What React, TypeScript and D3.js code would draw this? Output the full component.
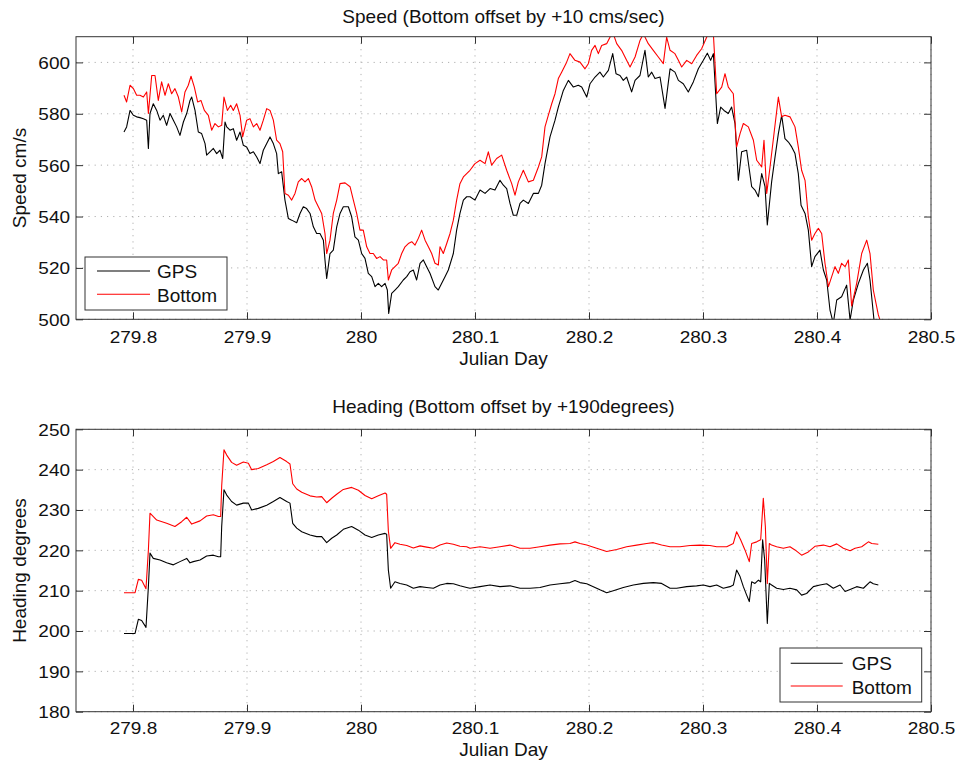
import React, { useEffect, useRef } from "react";
import * as d3 from "d3";

// ---------------- DATA ----------------
const xTicks = [279.8, 279.9, 280.0, 280.1, 280.2, 280.3, 280.4, 280.5];
const xTickLabels = ["279.8", "279.9", "280", "280.1", "280.2", "280.3", "280.4", "280.5"];
const speedTicks = [500, 520, 540, 560, 580, 600];
const headingTicks = [180, 190, 200, 210, 220, 230, 240, 250];
const seriesNames = ["GPS", "Bottom"];

const speedGPS: [number, number][] = [
  [279.7921, 572.9], [279.7944, 574.9], [279.7974, 581.3], [279.8003, 579.4], [279.8032, 578.8], [279.8061, 578.5],
  [279.8091, 578.1], [279.812, 577.5], [279.8135, 566.5], [279.8149, 580.1], [279.8178, 583.9], [279.8208, 581.3],
  [279.8237, 577.5], [279.8266, 579.4], [279.8295, 575.5], [279.8325, 580.1], [279.8354, 577.5], [279.8383, 574.9],
  [279.8412, 571.6], [279.8442, 576.8], [279.8471, 580.1], [279.85, 585.2], [279.8515, 586.5], [279.8544, 581.3],
  [279.8573, 572.9], [279.8602, 572.3], [279.8632, 568.4], [279.8646, 563.9], [279.8675, 565.2], [279.8705, 566.5],
  [279.8734, 564.5], [279.8763, 565.8], [279.8787, 562.6], [279.8807, 576.8], [279.8822, 574.9], [279.8851, 573.6],
  [279.888, 574.2], [279.8909, 569.7], [279.8939, 572.9], [279.8968, 567.7], [279.8997, 567.1], [279.9026, 564.5],
  [279.9056, 565.2], [279.9085, 563.2], [279.9114, 560.6], [279.9143, 565.8], [279.9173, 568.4], [279.9202, 571.0],
  [279.9231, 568.4], [279.926, 564.5], [279.9275, 556.7], [279.9304, 557.4], [279.9333, 546.4], [279.9363, 539.2],
  [279.9392, 538.6], [279.9436, 537.6], [279.9465, 541.2], [279.9494, 543.8], [279.9523, 543.1], [279.9553, 541.2],
  [279.9582, 536.0], [279.9611, 533.4], [279.964, 533.4], [279.967, 530.8], [279.9684, 523.1], [279.9699, 515.9],
  [279.9728, 525.6], [279.9757, 526.9], [279.9787, 536.0], [279.9816, 541.2], [279.9845, 543.8], [279.9889, 543.8],
  [279.9918, 539.9], [279.9947, 532.1], [279.9977, 530.8], [280.0006, 525.6], [280.0035, 523.7], [280.0064, 517.9],
  [280.0094, 516.6], [280.0123, 512.7], [280.0152, 514.0], [280.0181, 512.7], [280.0211, 514.0], [280.0231, 511.4],
  [280.0243, 502.3], [280.0269, 510.1], [280.0298, 511.4], [280.0327, 512.7], [280.0371, 515.3], [280.0401, 516.6],
  [280.043, 518.5], [280.0459, 519.2], [280.0488, 515.3], [280.0518, 521.8], [280.0547, 523.1], [280.0576, 520.5],
  [280.0605, 517.9], [280.0649, 512.7], [280.0678, 511.4], [280.0708, 514.0], [280.0737, 516.6], [280.0766, 519.2],
  [280.081, 525.6], [280.0839, 534.7], [280.0868, 541.2], [280.0898, 546.4], [280.0927, 547.7], [280.0956, 547.7],
  [280.1, 546.4], [280.1044, 550.3], [280.1088, 549.0], [280.1132, 550.9], [280.1175, 550.3], [280.1219, 554.1],
  [280.1249, 552.2], [280.1278, 550.9], [280.1307, 545.1], [280.1336, 540.5], [280.1366, 540.5], [280.1395, 545.1],
  [280.1424, 546.4], [280.1468, 545.1], [280.1512, 549.0], [280.1556, 549.0], [280.1585, 552.2], [280.1614, 560.6],
  [280.1658, 571.0], [280.1702, 577.5], [280.1731, 582.6], [280.1775, 589.1], [280.1819, 593.0], [280.1863, 590.4],
  [280.1906, 591.1], [280.1936, 590.4], [280.198, 586.5], [280.2009, 591.7], [280.2053, 594.3], [280.2096, 596.2],
  [280.2126, 594.3], [280.217, 596.9], [280.2208, 603.4], [280.2237, 595.6], [280.2272, 594.9], [280.2301, 593.0],
  [280.233, 594.3], [280.2374, 588.5], [280.2404, 593.0], [280.2447, 594.9], [280.2491, 604.7], [280.252, 594.3],
  [280.255, 596.2], [280.2579, 593.7], [280.2623, 594.3], [280.2667, 582.1], [280.2711, 597.5], [280.2754, 596.2],
  [280.2784, 593.0], [280.2827, 591.7], [280.2871, 588.5], [280.2915, 592.4], [280.2959, 597.5], [280.3003, 600.8],
  [280.3038, 603.6], [280.3067, 600.8], [280.3091, 603.4], [280.3126, 576.2], [280.3155, 582.6], [280.3184, 581.3],
  [280.3222, 580.1], [280.3251, 582.6], [280.3281, 576.2], [280.331, 554.1], [280.3339, 565.2], [280.3383, 565.8],
  [280.3427, 551.6], [280.3456, 550.3], [280.3486, 547.7], [280.3515, 556.7], [280.3544, 551.6], [280.3564, 536.7],
  [280.3602, 553.5], [280.3632, 563.2], [280.3661, 572.3], [280.369, 579.4], [280.3719, 570.3], [280.3749, 569.0],
  [280.3778, 567.1], [280.3807, 564.5], [280.3836, 556.7], [280.386, 544.4], [280.3895, 541.2], [280.3924, 534.7],
  [280.3953, 520.5], [280.3982, 524.4], [280.4026, 526.9], [280.4056, 519.2], [280.4085, 515.3], [280.4114, 503.6],
  [280.4143, 498.4], [280.4173, 507.5], [280.4216, 508.8], [280.426, 513.3], [280.429, 499.7], [280.4319, 507.5],
  [280.4363, 514.0], [280.4407, 519.2], [280.4442, 521.8], [280.4465, 515.3], [280.45, 499.7], [280.4538, 495.9],
];

const speedBottom: [number, number][] = [
  [279.7921, 587.2], [279.7944, 584.6], [279.7974, 591.1], [279.8003, 589.8], [279.8032, 587.2], [279.8061, 587.2],
  [279.8091, 586.5], [279.812, 588.5], [279.8135, 580.1], [279.8164, 594.9], [279.8193, 594.9], [279.8222, 585.2],
  [279.8251, 592.4], [279.8281, 587.2], [279.831, 591.7], [279.8339, 587.8], [279.8368, 589.8], [279.8398, 586.5],
  [279.8427, 580.7], [279.8456, 588.5], [279.8485, 591.1], [279.8509, 594.6], [279.8538, 590.4], [279.8567, 584.6],
  [279.8596, 585.2], [279.8626, 581.3], [279.8661, 579.4], [279.869, 573.6], [279.8719, 576.2], [279.8749, 574.9],
  [279.8778, 575.5], [279.8798, 586.5], [279.8828, 581.3], [279.8857, 583.3], [279.888, 581.3], [279.8909, 583.9],
  [279.8939, 579.4], [279.8962, 571.0], [279.8997, 577.5], [279.9026, 578.1], [279.9056, 574.9], [279.9085, 576.2],
  [279.9114, 573.6], [279.9143, 577.5], [279.9173, 582.0], [279.9202, 581.3], [279.9231, 577.5], [279.926, 569.7],
  [279.9289, 568.4], [279.9313, 565.2], [279.9333, 549.0], [279.9363, 548.3], [279.9392, 546.4], [279.9421, 549.0],
  [279.945, 553.5], [279.948, 554.8], [279.9509, 553.5], [279.9538, 554.8], [279.9567, 551.6], [279.9597, 546.4],
  [279.9626, 543.8], [279.9655, 541.2], [279.9684, 533.4], [279.9699, 525.6], [279.9728, 530.8], [279.9757, 541.2],
  [279.9787, 546.4], [279.9816, 552.8], [279.986, 553.1], [279.9904, 551.6], [279.9933, 546.4], [279.9962, 541.2],
  [279.9991, 534.7], [280.002, 534.7], [280.005, 528.2], [280.0079, 525.6], [280.0108, 525.6], [280.0137, 523.7],
  [280.0167, 524.4], [280.0196, 523.1], [280.0225, 523.1], [280.024, 515.3], [280.0269, 519.2], [280.0298, 520.5],
  [280.0327, 521.8], [280.0357, 525.6], [280.0386, 528.2], [280.0415, 529.5], [280.0445, 530.2], [280.0474, 528.9],
  [280.0503, 531.5], [280.0532, 534.7], [280.0562, 530.8], [280.0591, 528.2], [280.062, 525.6], [280.0649, 521.8],
  [280.0678, 521.1], [280.0693, 528.2], [280.0722, 525.6], [280.0752, 529.5], [280.0781, 533.4], [280.081, 538.6],
  [280.0839, 546.4], [280.0868, 552.8], [280.0898, 555.4], [280.0927, 556.7], [280.0956, 558.0], [280.1, 560.6],
  [280.1044, 561.9], [280.1088, 560.6], [280.1117, 565.2], [280.1146, 560.0], [280.119, 562.6], [280.1234, 563.9],
  [280.1278, 558.0], [280.1322, 552.8], [280.1351, 548.3], [280.138, 553.5], [280.1424, 558.0], [280.1468, 553.5],
  [280.1512, 554.1], [280.1556, 559.3], [280.1585, 563.2], [280.1614, 574.9], [280.1643, 579.4], [280.1673, 583.9],
  [280.1702, 587.8], [280.1731, 593.7], [280.176, 596.2], [280.1804, 600.1], [280.1833, 603.4], [280.1877, 600.8],
  [280.1921, 600.1], [280.1965, 597.5], [280.1994, 599.5], [280.2023, 604.7], [280.2053, 606.6], [280.2082, 603.4],
  [280.2111, 606.6], [280.2155, 607.3], [280.2184, 609.8], [280.2213, 611.1], [280.2243, 607.3], [280.2286, 604.7],
  [280.233, 600.8], [280.236, 598.2], [280.2404, 602.1], [280.2447, 608.5], [280.2477, 611.1], [280.252, 607.3],
  [280.2564, 604.7], [280.2608, 602.1], [280.2652, 599.5], [280.2681, 609.8], [280.2711, 604.7], [280.2754, 603.4],
  [280.2784, 600.8], [280.2813, 598.2], [280.2857, 600.8], [280.2901, 599.5], [280.2944, 602.7], [280.2988, 605.3],
  [280.3032, 609.8], [280.3061, 611.7], [280.3091, 611.1], [280.312, 587.8], [280.3164, 590.4], [280.3193, 595.6],
  [280.3222, 590.4], [280.3266, 587.8], [280.3295, 567.1], [280.3325, 572.3], [280.3354, 576.2], [280.3398, 574.9],
  [280.3442, 569.7], [280.3471, 561.9], [280.3515, 559.3], [280.3535, 569.7], [280.3559, 549.0], [280.3588, 559.3],
  [280.3623, 572.3], [280.3661, 586.5], [280.369, 578.8], [280.3719, 579.4], [280.3763, 578.8], [280.3807, 574.9],
  [280.3836, 567.1], [280.3865, 558.0], [280.3895, 554.1], [280.3924, 539.9], [280.3953, 530.8], [280.3982, 533.4],
  [280.4012, 535.4], [280.4041, 533.4], [280.407, 521.8], [280.41, 512.7], [280.4129, 516.6], [280.4158, 520.5],
  [280.4187, 517.9], [280.4216, 521.8], [280.4246, 520.5], [280.4275, 523.1], [280.4304, 505.2], [280.4348, 514.0],
  [280.4392, 525.6], [280.4436, 530.8], [280.4465, 525.6], [280.4494, 511.4], [280.4538, 501.7], [280.4553, 499.7],
];

const headingGPS: [number, number][] = [
  [279.7921, 199.4], [279.8018, 199.4], [279.8047, 202.9], [279.8076, 202.6], [279.8114, 200.9], [279.8135, 211.0],
  [279.8149, 219.3], [279.8178, 218.0], [279.8237, 217.6], [279.8295, 216.9], [279.8354, 216.4], [279.8412, 217.2],
  [279.8471, 218.0], [279.85, 216.9], [279.8529, 217.2], [279.8588, 217.6], [279.8646, 218.6], [279.8705, 218.8],
  [279.8749, 218.4], [279.8769, 218.4], [279.8778, 225.9], [279.8798, 235.0], [279.8822, 233.7], [279.8865, 232.1],
  [279.8909, 231.2], [279.8968, 231.7], [279.9012, 231.7], [279.9041, 230.0], [279.9099, 230.4], [279.9173, 231.2],
  [279.9231, 232.1], [279.9289, 233.1], [279.9348, 232.1], [279.9377, 231.7], [279.9401, 226.7], [279.9436, 225.5],
  [279.948, 224.6], [279.9553, 223.8], [279.9611, 223.4], [279.9655, 223.4], [279.9699, 221.9], [279.9743, 223.0],
  [279.9787, 223.8], [279.9845, 225.2], [279.9918, 225.9], [279.9977, 225.0], [280.0035, 223.8], [280.0094, 223.2],
  [280.0152, 223.8], [280.0211, 224.2], [280.0225, 224.0], [280.024, 215.1], [280.026, 210.6], [280.0298, 212.2],
  [280.0342, 211.8], [280.0401, 211.4], [280.0459, 210.6], [280.0518, 211.0], [280.0576, 210.8], [280.0635, 210.6],
  [280.0693, 211.4], [280.0752, 211.8], [280.081, 211.7], [280.0868, 211.2], [280.0927, 210.8], [280.0956, 210.6],
  [280.1044, 211.0], [280.1132, 211.4], [280.1219, 211.0], [280.1307, 211.2], [280.1395, 210.6], [280.1483, 210.6],
  [280.157, 210.8], [280.1658, 211.4], [280.1746, 211.7], [280.1833, 212.0], [280.1877, 212.5], [280.1921, 212.0],
  [280.198, 211.7], [280.2038, 211.0], [280.2096, 210.2], [280.2155, 209.5], [280.2213, 210.0], [280.2301, 210.8],
  [280.2389, 211.4], [280.2477, 211.8], [280.2564, 212.0], [280.2637, 211.8], [280.2711, 210.6], [280.2769, 210.6],
  [280.2857, 211.0], [280.2944, 211.2], [280.3003, 211.4], [280.3061, 211.0], [280.312, 211.4], [280.3178, 210.6],
  [280.3237, 211.0], [280.3266, 211.4], [280.3295, 215.1], [280.3325, 213.5], [280.3354, 211.0], [280.3383, 208.9],
  [280.3406, 207.3], [280.3427, 212.2], [280.3456, 211.8], [280.3486, 212.6], [280.3506, 212.2], [280.3523, 222.6],
  [280.3541, 217.6], [280.3564, 201.9], [280.3582, 211.8], [280.3602, 211.4], [280.3646, 210.6], [280.3705, 210.3],
  [280.3763, 210.6], [280.3822, 210.2], [280.3865, 208.9], [280.3909, 209.3], [280.3968, 211.0], [280.4026, 211.4],
  [280.4085, 211.7], [280.4143, 210.6], [280.4202, 211.4], [280.4246, 209.8], [280.429, 210.3], [280.4348, 211.0],
  [280.4407, 210.6], [280.4465, 212.2], [280.4494, 211.7], [280.4538, 211.4],
];

const headingBottom: [number, number][] = [
  [279.7921, 209.5], [279.8018, 209.5], [279.8047, 212.8], [279.8076, 212.6], [279.8114, 210.5], [279.8135, 220.1],
  [279.8149, 229.2], [279.8208, 227.5], [279.8295, 226.7], [279.8368, 225.9], [279.8427, 227.1], [279.8471, 228.2],
  [279.8515, 226.5], [279.8588, 227.3], [279.8646, 228.5], [279.8705, 228.8], [279.8749, 228.4], [279.8769, 228.4],
  [279.8778, 236.0], [279.8798, 244.9], [279.8822, 243.6], [279.8865, 241.8], [279.8909, 241.1], [279.8968, 241.9],
  [279.9012, 241.6], [279.9041, 240.0], [279.9099, 240.3], [279.9173, 241.2], [279.9231, 242.0], [279.9289, 243.0],
  [279.9348, 242.0], [279.9377, 241.4], [279.9401, 236.5], [279.9436, 235.2], [279.948, 234.4], [279.9553, 233.5],
  [279.9611, 233.2], [279.9655, 233.3], [279.9699, 231.8], [279.9743, 232.9], [279.9787, 233.9], [279.9845, 235.1],
  [279.9918, 235.6], [279.9977, 234.9], [280.0035, 233.6], [280.0094, 232.8], [280.0152, 233.5], [280.0211, 234.2],
  [280.0225, 233.9], [280.024, 224.8], [280.026, 220.5], [280.0298, 221.9], [280.0342, 221.5], [280.0401, 221.2],
  [280.0459, 220.6], [280.0518, 221.1], [280.0576, 220.8], [280.0635, 220.5], [280.0693, 221.3], [280.0752, 221.8],
  [280.081, 221.5], [280.0868, 221.0], [280.0927, 220.9], [280.0956, 220.5], [280.1044, 220.9], [280.1132, 220.5],
  [280.1219, 220.9], [280.1307, 221.3], [280.1395, 220.5], [280.1483, 220.5], [280.157, 220.9], [280.1658, 221.3],
  [280.1746, 221.6], [280.1833, 221.7], [280.1877, 222.1], [280.1921, 221.7], [280.198, 221.3], [280.2067, 220.5],
  [280.2155, 219.7], [280.2243, 220.2], [280.233, 220.9], [280.2418, 221.3], [280.2506, 221.7], [280.2564, 221.9],
  [280.2637, 221.3], [280.2711, 220.9], [280.2798, 220.9], [280.2886, 221.2], [280.2974, 221.3], [280.3061, 221.2],
  [280.312, 220.9], [280.3208, 220.9], [280.3266, 221.7], [280.3295, 224.6], [280.333, 222.6], [280.3368, 220.1],
  [280.3406, 217.2], [280.3427, 221.7], [280.3471, 222.1], [280.3506, 222.6], [280.3529, 232.9], [280.3547, 225.9],
  [280.3564, 211.8], [280.3582, 221.7], [280.3602, 221.3], [280.3646, 220.9], [280.3705, 220.5], [280.3763, 220.9],
  [280.3807, 220.1], [280.3865, 218.8], [280.3924, 219.6], [280.3982, 221.0], [280.4056, 221.3], [280.4114, 220.9],
  [280.4173, 221.6], [280.4231, 220.5], [280.429, 219.9], [280.4334, 220.5], [280.4392, 220.9], [280.4451, 222.1],
  [280.448, 221.7], [280.4538, 221.5],
];

// ---------------- LAYOUT ----------------
const W = 956;
const H = 762;
const FONT = "'Liberation Sans', Arial, Helvetica, sans-serif";
const COLORS = ["#000000", "#ff0000"];

type Panel = {
  id: string;
  top: number;
  bottom: number;
  yDomain: [number, number];
  yTicks: number[];
  title: string;
  titleY: number;
  ylabel: string;
  tickLabelY: number;
  xlabelY: number;
  series: [number, number][][];
  legend: { x: number; y: number; w: number; h: number; lx0: number; lx1: number; tx: number; ly: number[]; ty: number[] };
};

const panels: Panel[] = [
  {
    id: "speed",
    top: 36.7,
    bottom: 319.3,
    yDomain: [500, 610],
    yTicks: speedTicks,
    title: "Speed (Bottom offset by +10 cms/sec)",
    titleY: 22.7,
    ylabel: "Speed cm/s",
    tickLabelY: 24,
    xlabelY: 365,
    series: [speedGPS, speedBottom],
    legend: { x: 85, y: 257, w: 142, h: 53, lx0: 97, lx1: 150, tx: 157, ly: [271, 294.3], ty: [278.3, 301.5] },
  },
  {
    id: "heading",
    top: 429.3,
    bottom: 711.7,
    yDomain: [180, 250],
    yTicks: headingTicks,
    title: "Heading (Bottom offset by +190degrees)",
    titleY: 413,
    ylabel: "Heading degrees",
    tickLabelY: 22.5,
    xlabelY: 756,
    series: [headingGPS, headingBottom],
    legend: { x: 780, y: 648, w: 141.7, h: 54, lx0: 790.7, lx1: 842.7, tx: 851.7, ly: [663.3, 686], ty: [670, 693.5] },
  },
];

const LEFT = 76;
const RIGHT = 931;

export default function App() {
  const ref = useRef<SVGSVGElement | null>(null);

  useEffect(() => {
    const svg = d3.select(ref.current);
    svg.selectAll("*").remove();
    svg.append("rect").attr("width", W).attr("height", H).attr("fill", "#ffffff");

    const x = d3.scaleLinear().domain([279.75, 280.5]).range([LEFT, RIGHT]);

    panels.forEach((p) => {
      const y = d3.scaleLinear().domain(p.yDomain).range([p.bottom, p.top]);
      const g = svg.append("g");

      // clip
      const clipId = `clip-${p.id}`;
      svg
        .append("clipPath")
        .attr("id", clipId)
        .append("rect")
        .attr("x", LEFT)
        .attr("y", p.top)
        .attr("width", RIGHT - LEFT)
        .attr("height", p.bottom - p.top);

      // grid
      const grid = g.append("g").attr("stroke", "#b0b0b0").attr("stroke-width", 1).attr("stroke-dasharray", "1.2,5");
      xTicks.forEach((t) => {
        grid.append("line").attr("x1", x(t)).attr("x2", x(t)).attr("y1", p.top).attr("y2", p.bottom);
      });
      p.yTicks.forEach((t) => {
        grid.append("line").attr("x1", LEFT).attr("x2", RIGHT).attr("y1", y(t)).attr("y2", y(t));
      });

      // data lines
      const line = d3
        .line<[number, number]>()
        .x((d) => x(d[0]))
        .y((d) => y(d[1]));
      const dg = g.append("g").attr("clip-path", `url(#${clipId})`);
      p.series.forEach((s, i) => {
        dg.append("path")
          .attr("d", line(s) as string)
          .attr("fill", "none")
          .attr("stroke", COLORS[i])
          .attr("stroke-width", 1.1)
          .attr("stroke-linejoin", "round");
      });

      // axes
      const axB = g
        .append("g")
        .attr("transform", `translate(0,${p.bottom})`)
        .call(
          d3
            .axisBottom(x)
            .tickValues(xTicks)
            .tickFormat((_d, i) => xTickLabels[i])
            .tickSizeInner(-7)
            .tickSizeOuter(0)
        );
      const axT = g
        .append("g")
        .attr("transform", `translate(0,${p.top})`)
        .call(d3.axisTop(x).tickValues(xTicks).tickFormat(() => "").tickSizeInner(-7).tickSizeOuter(0));
      const axL = g
        .append("g")
        .attr("transform", `translate(${LEFT},0)`)
        .call(d3.axisLeft(y).tickValues(p.yTicks).tickFormat(d3.format("d")).tickSizeInner(-7).tickSizeOuter(0));
      const axR = g
        .append("g")
        .attr("transform", `translate(${RIGHT},0)`)
        .call(d3.axisRight(y).tickValues(p.yTicks).tickFormat(() => "").tickSizeInner(-7).tickSizeOuter(0));

      [axB, axT, axL, axR].forEach((a) => {
        a.select(".domain").remove();
        a.selectAll(".tick line").attr("stroke", "#333").attr("stroke-width", 1);
        a.selectAll("text")
          .attr("font-family", FONT)
          .attr("font-size", 16.5)
          .attr("fill", "#111");
      });
      axB.selectAll("text").attr("y", p.tickLabelY).attr("dy", null).attr("transform", "scale(1.15,1)");
      axL.selectAll("text").attr("x", -6 / 1.15).attr("dy", "0.36em").attr("transform", "scale(1.15,1)");

      // box
      g.append("rect")
        .attr("x", LEFT)
        .attr("y", p.top)
        .attr("width", RIGHT - LEFT)
        .attr("height", p.bottom - p.top)
        .attr("fill", "none")
        .attr("stroke", "#333")
        .attr("stroke-width", 1);

      // title & labels
      g.append("text")
        .attr("x", (LEFT + RIGHT) / 2)
        .attr("y", p.titleY)
        .attr("text-anchor", "middle")
        .attr("font-family", FONT)
        .attr("font-size", 19)
        .attr("fill", "#111")
        .text(p.title);
      g.append("text")
        .attr("x", (LEFT + RIGHT) / 2)
        .attr("y", p.xlabelY)
        .attr("text-anchor", "middle")
        .attr("font-family", FONT)
        .attr("font-size", 19)
        .attr("fill", "#111")
        .text("Julian Day");
      g.append("text")
        .attr("transform", `translate(25.5,${(p.top + p.bottom) / 2}) rotate(-90)`)
        .attr("text-anchor", "middle")
        .attr("font-family", FONT)
        .attr("font-size", 19)
        .attr("fill", "#111")
        .text(p.ylabel);

      // legend
      const L = p.legend;
      const lg = g.append("g");
      lg.append("rect")
        .attr("x", L.x)
        .attr("y", L.y)
        .attr("width", L.w)
        .attr("height", L.h)
        .attr("fill", "#ffffff")
        .attr("stroke", "#333")
        .attr("stroke-width", 1);
      seriesNames.forEach((name, i) => {
        lg.append("line")
          .attr("x1", L.lx0)
          .attr("x2", L.lx1)
          .attr("y1", L.ly[i])
          .attr("y2", L.ly[i])
          .attr("stroke", COLORS[i])
          .attr("stroke-width", 1.1);
        lg.append("text")
          .attr("x", L.tx)
          .attr("y", L.ty[i])
          .attr("font-family", FONT)
          .attr("font-size", 19)
          .attr("fill", "#111")
          .text(name);
      });
    });
  }, []);

  return (
    <svg
      ref={ref}
      width={W}
      height={H}
      viewBox={`0 0 ${W} ${H}`}
      style={{ position: "absolute", left: 0, top: 0, display: "block" }}
    />
  );
}
